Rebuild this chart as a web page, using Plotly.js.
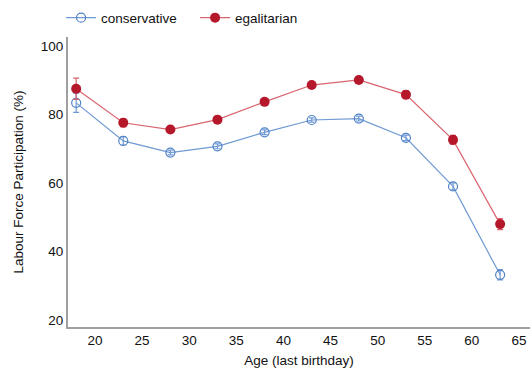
<!DOCTYPE html>
<html><head><meta charset="utf-8">
<script src="https://cdn.plot.ly/plotly-3.0.1.min.js"></script>
<style>body{margin:0;padding:0;background:#fff}#chart{width:530px;height:369px}</style>
</head><body><div id="chart"></div>
<script>
const ages = [18, 23, 28, 33, 38, 43, 48, 53, 58, 63];
const conservative = [83.4, 72.3, 68.9, 70.7, 74.8, 78.4, 78.8, 73.2, 59.0, 33.2];
const conservativeErr = [2.8, 1.2, 0.7, 0.7, 0.7, 0.6, 0.7, 0.8, 1.0, 1.5];
const egalitarian = [87.5, 77.6, 75.6, 78.5, 83.7, 88.6, 90.1, 85.8, 72.6, 48.0];
const egalitarianErr = [3.1, 1.2, 0.7, 0.7, 0.7, 0.7, 0.9, 1.2, 1.3, 1.6];

const font = {family: 'Liberation Sans, Arial, sans-serif', size: 13.5, color: '#111'};
const traces = [
  {x: ages, y: conservative, name: 'conservative', type: 'scatter', mode: 'lines+markers',
   line: {color: '#6f9ad3', width: 1.2},
   marker: {symbol: 'circle-open', size: 9, color: '#4f82c6', line: {width: 1.2}},
   error_y: {type: 'data', array: conservativeErr, visible: true, color: '#6f9ad3', thickness: 1.2, width: 3}},
  {x: ages, y: egalitarian, name: 'egalitarian', type: 'scatter', mode: 'lines+markers',
   line: {color: '#d9646f', width: 1.2},
   marker: {symbol: 'circle', size: 10, color: '#b5172b'},
   error_y: {type: 'data', array: egalitarianErr, visible: true, color: '#d9646f', thickness: 1.2, width: 3}}
];
const layout = {
  width: 530, height: 369,
  margin: {l: 68, r: 0, t: 37, b: 42, autoexpand: false},
  paper_bgcolor: '#fff', plot_bgcolor: '#fff',
  font: font,
  showlegend: true,
  legend: {orientation: 'h', x: -0.015, xanchor: 'left', y: 1.066, yanchor: 'middle', font: font, entrywidth: 89},
  xaxis: {range: [17.134, 66.17], tickvals: [20,25,30,35,40,45,50,55,60,65], showgrid: false, zeroline: false,
          showline: true, linecolor: '#a0a0a0', linewidth: 2, ticks: '', tickfont: font,
          title: {text: 'Age (last birthday)', font: font, standoff: 8}},
  yaxis: {range: [17.96, 102.63], tickvals: [20,40,60,80,100], showgrid: false, zeroline: false,
          showline: true, linecolor: '#a0a0a0', linewidth: 2, ticks: '', tickfont: font,
          title: {text: 'Labour Force Participation (%)', font: font, standoff: 14}}
};
Plotly.newPlot('chart', traces, layout, {displayModeBar: false, staticPlot: true});
</script></body></html>
